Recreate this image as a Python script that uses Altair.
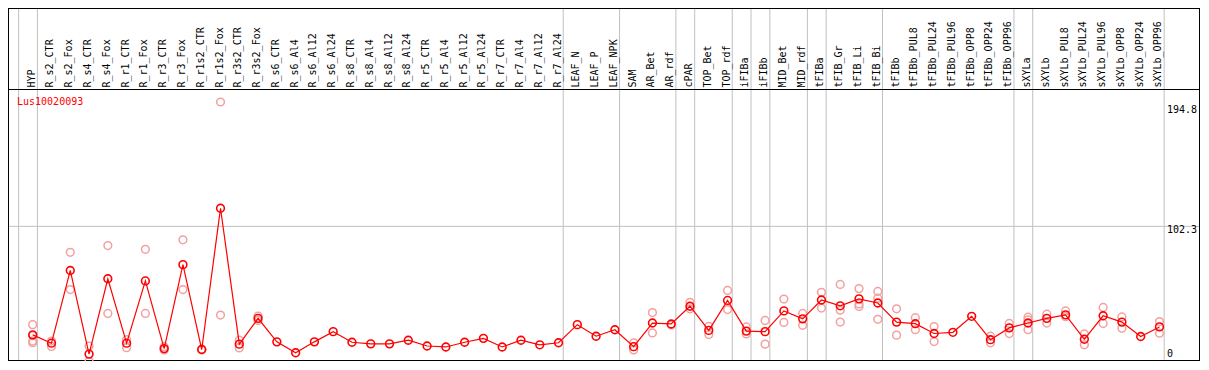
import altair as alt
import pandas as pd

categories = [
    "HYP", "R_s2_CTR", "R_s2_Fox", "R_s4_CTR", "R_s4_Fox", "R_r1_CTR", "R_r1_Fox",
    "R_r3_CTR", "R_r3_Fox", "R_r1s2_CTR", "R_r1s2_Fox", "R_r3s2_CTR", "R_r3s2_Fox",
    "R_s6_CTR", "R_s6_Al4", "R_s6_Al12", "R_s6_Al24", "R_s8_CTR", "R_s8_Al4",
    "R_s8_Al12", "R_s8_Al24", "R_r5_CTR", "R_r5_Al4", "R_r5_Al12", "R_r5_Al24",
    "R_r7_CTR", "R_r7_Al4", "R_r7_Al12", "R_r7_Al24", "LEAF_N", "LEAF_P", "LEAF_NPK",
    "SAM", "AR_Bet", "AR_rdf", "cPAR", "TOP_Bet", "TOP_rdf", "iFIBa", "iFIBb",
    "MID_Bet", "MID_rdf", "tFIBa", "tFIB_Gr", "tFIB_Li", "tFIB_Bi", "tFIBb",
    "tFIBb_PUL8", "tFIBb_PUL24", "tFIBb_PUL96", "tFIBb_OPP8", "tFIBb_OPP24",
    "tFIBb_OPP96", "sXYLa", "sXYLb", "sXYLb_PUL8", "sXYLb_PUL24", "sXYLb_PUL96",
    "sXYLb_OPP8", "sXYLb_OPP24", "sXYLb_OPP96",
]

means = [
    21.6, 15.4, 69.5, 7.3, 63.3, 15.4, 61.7, 11.4, 73.8, 10.7, 115.8, 14.7, 33.9,
    16.4, 8.3, 16.4, 24.0, 16.1, 14.9, 14.9, 17.6, 13.3, 12.6, 16.1, 19.0,
    12.6, 17.6, 14.2, 15.7, 29.2, 20.6, 25.4,
    12.8, 30.4, 29.7, 42.9, 24.9, 47.2, 24.4, 24.0, 39.4, 33.5,
    47.5, 43.2, 48.4, 45.3, 31.1, 29.9, 22.6, 23.5, 35.4, 18.0, 26.8,
    30.4, 33.9, 36.5, 18.3, 35.8, 31.1, 20.4, 27.5,
]

replicates = [
    [29.2, 21.0, 17.0, 15.8], [17.0, 13.0], [83.0, 55.3], [13.3, 1.9], [88.0, 37.5],
    [18.0, 12.1], [85.2, 37.5], [12.8, 10.4], [92.3, 55.3], [10.9, 10.4],
    [194.8, 36.3], [17.6, 11.9], [35.6, 32.3],
    [], [], [], [], [], [], [], [], [], [], [], [], [], [], [], [],
    [], [], [],
    [15.7, 10.4], [38.2, 23.0], [29.0], [45.8, 41.0], [28.0, 21.8], [54.6, 40.4],
    [27.5, 22.3], [32.3, 14.7], [48.2, 30.8], [37.5, 28.7],
    [53.2, 41.5], [59.1, 39.9, 31.1], [56.0, 44.6, 42.7], [53.9, 48.9, 33.2],
    [41.0, 21.4], [34.4, 25.4], [27.8, 16.6], [], [], [20.6, 15.7], [30.1, 22.6],
    [34.7, 32.7, 25.4], [37.0, 30.4], [39.4, 35.1], [22.3, 14.2], [42.0, 30.1],
    [34.9, 26.5], [], [31.5, 22.8],
]

# group separators drawn after these categories ("" = before the first one)
separators_after = ["", "HYP", "R_r7_Al24", "LEAF_NPK", "AR_rdf", "cPAR", "TOP_rdf",
                    "iFIBa", "iFIBb", "MID_rdf", "tFIBa", "tFIB_Bi", "tFIBb_OPP96",
                    "sXYLa", "sXYLb_OPP96"]

gene = "Lus10020093"
y_ticks = [194.8, 102.3, 0]

W, H = 1192, 353
FONT = "DejaVu Sans Mono"

mean_df = pd.DataFrame({"i": list(range(len(categories))), "cat": categories, "v": means})
rep_df = pd.DataFrame(
    [{"i": i, "v": r} for i, reps in enumerate(replicates) for r in reps]
)
sep_df = pd.DataFrame({"after": [categories.index(s) if s else -1 for s in separators_after]})

xscale = alt.Scale(domain=[-1.316, 62.158], nice=False, zero=False)
yscale = alt.Scale(domain=[0, 194.8], range=[355.9, 94.0], nice=False, zero=False)

X = alt.X("i:Q", scale=xscale, axis=None)
Y = alt.Y("v:Q", scale=yscale, axis=None)

seps = alt.Chart(sep_df).transform_calculate(pos="datum.after + 0.25").mark_rule(
    color="#c0c0c0", strokeWidth=1
).encode(x=alt.X("pos:Q", scale=xscale, axis=None), y=alt.value(0), y2=alt.value(H))

grid = alt.Chart(pd.DataFrame({"v": [y_ticks[1]]})).mark_rule(
    color="#c0c0c0", strokeWidth=1
).encode(y=Y, x=alt.value(0), x2=alt.value(W))

header_line = alt.Chart(pd.DataFrame({"a": [0]})).mark_rule(
    color="black", strokeWidth=1
).encode(y=alt.value(81.5), x=alt.value(0), x2=alt.value(W))

# outer frame
frame_top = alt.Chart(pd.DataFrame({"a": [0]})).mark_rule(color="black", strokeWidth=1).encode(
    y=alt.value(0.5), x=alt.value(0), x2=alt.value(W))
frame_bottom = alt.Chart(pd.DataFrame({"a": [0]})).mark_rule(color="black", strokeWidth=1).encode(
    y=alt.value(H - 0.5), x=alt.value(0), x2=alt.value(W))
frame_left = alt.Chart(pd.DataFrame({"a": [0]})).mark_rule(color="black", strokeWidth=1).encode(
    x=alt.value(0.5), y=alt.value(0), y2=alt.value(H))
frame_right = alt.Chart(pd.DataFrame({"a": [0]})).mark_rule(color="black", strokeWidth=1).encode(
    x=alt.value(W - 0.5), y=alt.value(0), y2=alt.value(H))

labels = alt.Chart(mean_df).mark_text(
    angle=270, align="left", baseline="alphabetic", dy=2, font=FONT, fontSize=10, color="black"
).encode(x=X, y=alt.value(79.5), text="cat:N")

reps = alt.Chart(rep_df).mark_point(
    shape="circle", filled=False, size=60, strokeWidth=1.5, color="#f2a0a0", opacity=1, clip=True
).encode(x=X, y=Y)

line = alt.Chart(mean_df).mark_line(color="#ff0000", strokeWidth=1.2, clip=True).encode(x=X, y=Y)

pts = alt.Chart(mean_df).mark_point(
    shape="circle", filled=False, size=60, strokeWidth=1.6, color="#ff0000", opacity=1, clip=True
).encode(x=X, y=Y)

gene_label = alt.Chart(pd.DataFrame({"t": [gene]})).mark_text(
    align="left", baseline="middle", font=FONT, fontSize=10, color="#ff0000"
).encode(text="t:N", x=alt.value(9), y=alt.value(93.5))

tick_layers = []
for val, dy in zip(y_ticks, [8.4, 3.6, -9.6]):
    tick_layers.append(
        alt.Chart(pd.DataFrame({"v": [val], "t": [f"{val:g}"]})).mark_text(
            align="left", baseline="middle", font=FONT, fontSize=10, color="black", dy=dy
        ).encode(y=Y, x=alt.value(1159), text="t:N")
    )

chart = alt.layer(
    seps, grid, header_line, frame_top, frame_bottom, frame_left, frame_right,
    labels, reps, line, pts, gene_label, *tick_layers
).properties(
    width=W, height=H, padding=0,
    autosize=alt.AutoSizeParams(type="none"),
).configure_view(stroke="transparent").configure(background="white")

chart.save("out.html", embed_options={"renderer": "svg", "actions": False})
